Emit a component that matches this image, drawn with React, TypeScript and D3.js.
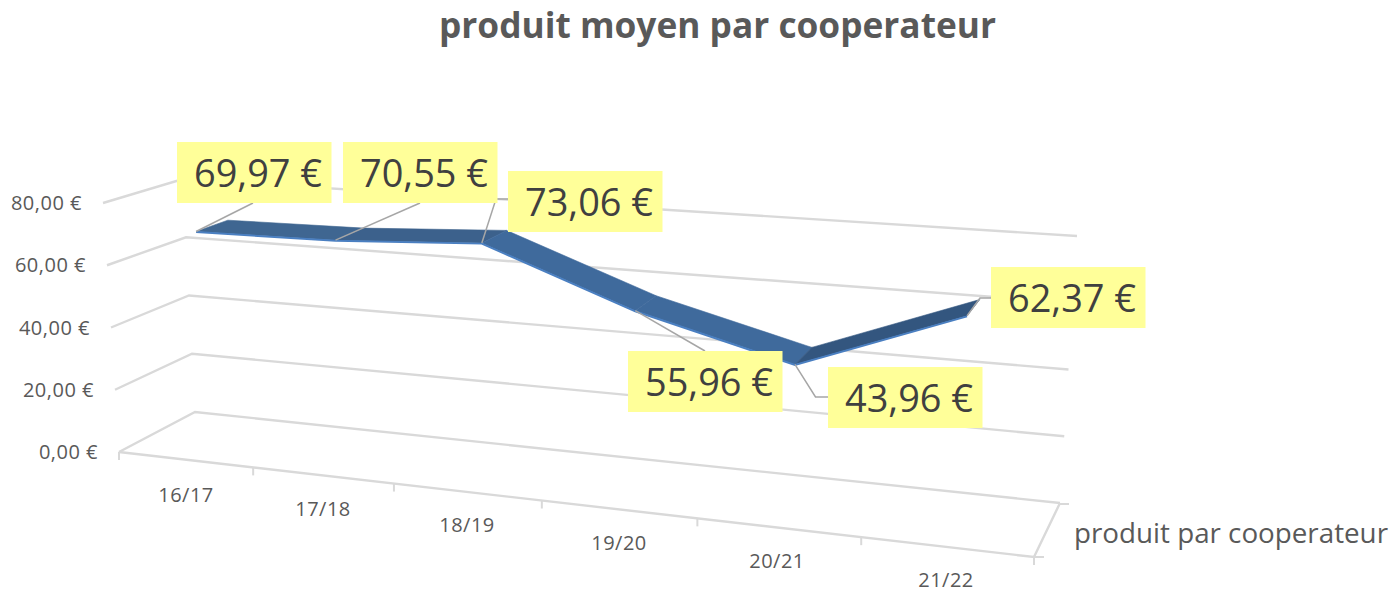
import React from "react";
import * as d3 from "d3";

const title = "produit moyen par cooperateur";
const seriesName = "produit par cooperateur";
const categories = ["16/17", "17/18", "18/19", "19/20", "20/21", "21/22"];
const values = [69.97, 70.55, 73.06, 55.96, 43.96, 62.37];
const valueTicks = [0, 20, 40, 60, 80];

const fmt = (v: number) => v.toFixed(2).replace(".", ",") + " €";
const FONT = "'Open Sans', 'Noto Sans', sans-serif";

// Projection of the 3D chart box: corners of the floor and of the top plane
const yFL = d3.scaleLinear().domain([0, 80]).range([452, 203]);
const yBL = d3.scaleLinear().domain([0, 80]).range([412, 179]);
const yBR = d3.scaleLinear().domain([0, 80]).range([503, 236]);
const yFR = d3.scaleLinear().domain([0, 80]).range([557, 272]);
const xFL = d3.scaleLinear().domain([0, 80]).range([119, 103]);
const xBL = d3.scaleLinear().domain([0, 80]).range([195, 183]);
const xBR = d3.scaleLinear().domain([0, 80]).range([1060, 1077]);
const xFR = d3.scaleLinear().domain([0, 80]).range([1034, 1052]);
const persp = (t: number) => t / (t + (1 - t) * 1.164);

function project(t: number, val: number, d: number): [number, number] {
  const u = persp(t);
  const fx = xFL(val) + (xFR(val) - xFL(val)) * u;
  const bx = xBL(val) + (xBR(val) - xBL(val)) * u;
  const fy = yFL(val) + (yFR(val) - yFL(val)) * u;
  const by = yBL(val) + (yBR(val) - yBL(val)) * u;
  return [fx + (bx - fx) * d, fy + (by - fy) * d];
}

const catT = d3.scaleLinear().domain([0, categories.length]).range([0, 1]);
const DEPTH_FRONT = 0.3;
const DEPTH_BACK = 0.72;
const line = d3.line();

const segmentFill = ["#3f6691", "#3c618c", "#3f6a9c", "#3f6a9c", "#33567f"];

const labelBoxes = [
  { x: 177, y: 142, kink: null, end: [253, 203] },
  { x: 343, y: 142, kink: null, end: [420, 203] },
  { x: 508, y: 171, kink: [496, 199], end: [508, 199] },
  { x: 628, y: 351, kink: null, end: [705, 351] },
  { x: 828, y: 367, kink: [815.5, 397], end: [828, 397] },
  { x: 991, y: 267, kink: [980, 298], end: [991, 298] },
];
const catLabelPos = [
  [186, 495], [323, 509], [467, 525], [619, 543], [777, 561], [946, 580],
];
const GRID = "#d9d9d9";

export default function App() {
  const pts = values.map((v, i) => {
    const t = catT(i + 0.5);
    return { f: project(t, v, DEPTH_FRONT), b: project(t, v, DEPTH_BACK) };
  });
  const floorTicks = d3.range(categories.length + 1).map((i) => project(catT(i), 0, 0));
  return (
    <svg width={1393} height={593} style={{ position: "absolute", left: 0, top: 0, background: "#fff" }}>
      <text x={439} y={38} fontFamily={FONT} fontWeight={700} fontSize={36} fill="#595959" textLength={557} lengthAdjust="spacingAndGlyphs">{title}</text>

      {valueTicks.map((v) => {
        const path = line([project(0, v, 0), project(0, v, 1), project(1, v, 1)]) as string;
        return <path key={v} d={path} fill="none" stroke={GRID} strokeWidth={2.4} />;
      })}
      <path d={line([project(0, 0, 0), project(1, 0, 0), project(1, 0, 1)]) as string} fill="none" stroke={GRID} strokeWidth={2.4} />
      {floorTicks.map(([x, y], i) => (
        <line key={i} x1={x} y1={y} x2={x} y2={y + 8} stroke={GRID} strokeWidth={2} />
      ))}
      <line x1={1034} y1={557} x2={1044} y2={557} stroke={GRID} strokeWidth={2} />
      <line x1={1060} y1={504} x2={1069} y2={504} stroke={GRID} strokeWidth={2} />

      {valueTicks.map((v) => {
        const [x, y] = project(0, v, 0);
        return (
          <text key={v} x={x - 21} y={y + 7} textAnchor="end" fontFamily={FONT} fontSize={20} letterSpacing={0.5} fill="#595959">{fmt(v)}</text>
        );
      })}
      {categories.map((c, i) => (
        <text key={c} x={catLabelPos[i][0]} y={catLabelPos[i][1] + 7} textAnchor="middle" fontFamily={FONT} fontSize={20} letterSpacing={0.5} fill="#595959">{c}</text>
      ))}
      <text x={1074} y={543} fontFamily={FONT} fontSize={28} fill="#595959" textLength={314} lengthAdjust="spacingAndGlyphs">{seriesName}</text>

      {pts.slice(0, -1).map((p, i) => {
        const q = pts[i + 1];
        return (
          <path key={i} d={(line([p.f, q.f, q.b, p.b]) as string) + "Z"} fill={segmentFill[i]} stroke={segmentFill[i]} strokeWidth={0.6} />
        );
      })}
      <path d={line(pts.map((p) => [p.f[0], p.f[1] + 0.6] as [number, number])) as string} fill="none" stroke="#4a7fc1" strokeWidth={2} />

      {pts.map((p, i) => {
        const b = labelBoxes[i];
        const seq = b.kink ? [p.f, b.kink, b.end] : [p.f, b.end];
        return <path key={i} d={line(seq as [number, number][]) as string} fill="none" stroke="#a6a6a6" strokeWidth={1.5} />;
      })}
      {values.map((v, i) => {
        const b = labelBoxes[i];
        return (
          <g key={i}>
            <rect x={b.x} y={b.y} width={154.5} height={61} fill="#ffff99" />
            <text x={b.x + 17} y={b.y + 45} fontFamily={FONT} fontSize={37.5} fill="#404040" textLength={128} lengthAdjust="spacingAndGlyphs">{fmt(v)}</text>
          </g>
        );
      })}
    </svg>
  );
}
